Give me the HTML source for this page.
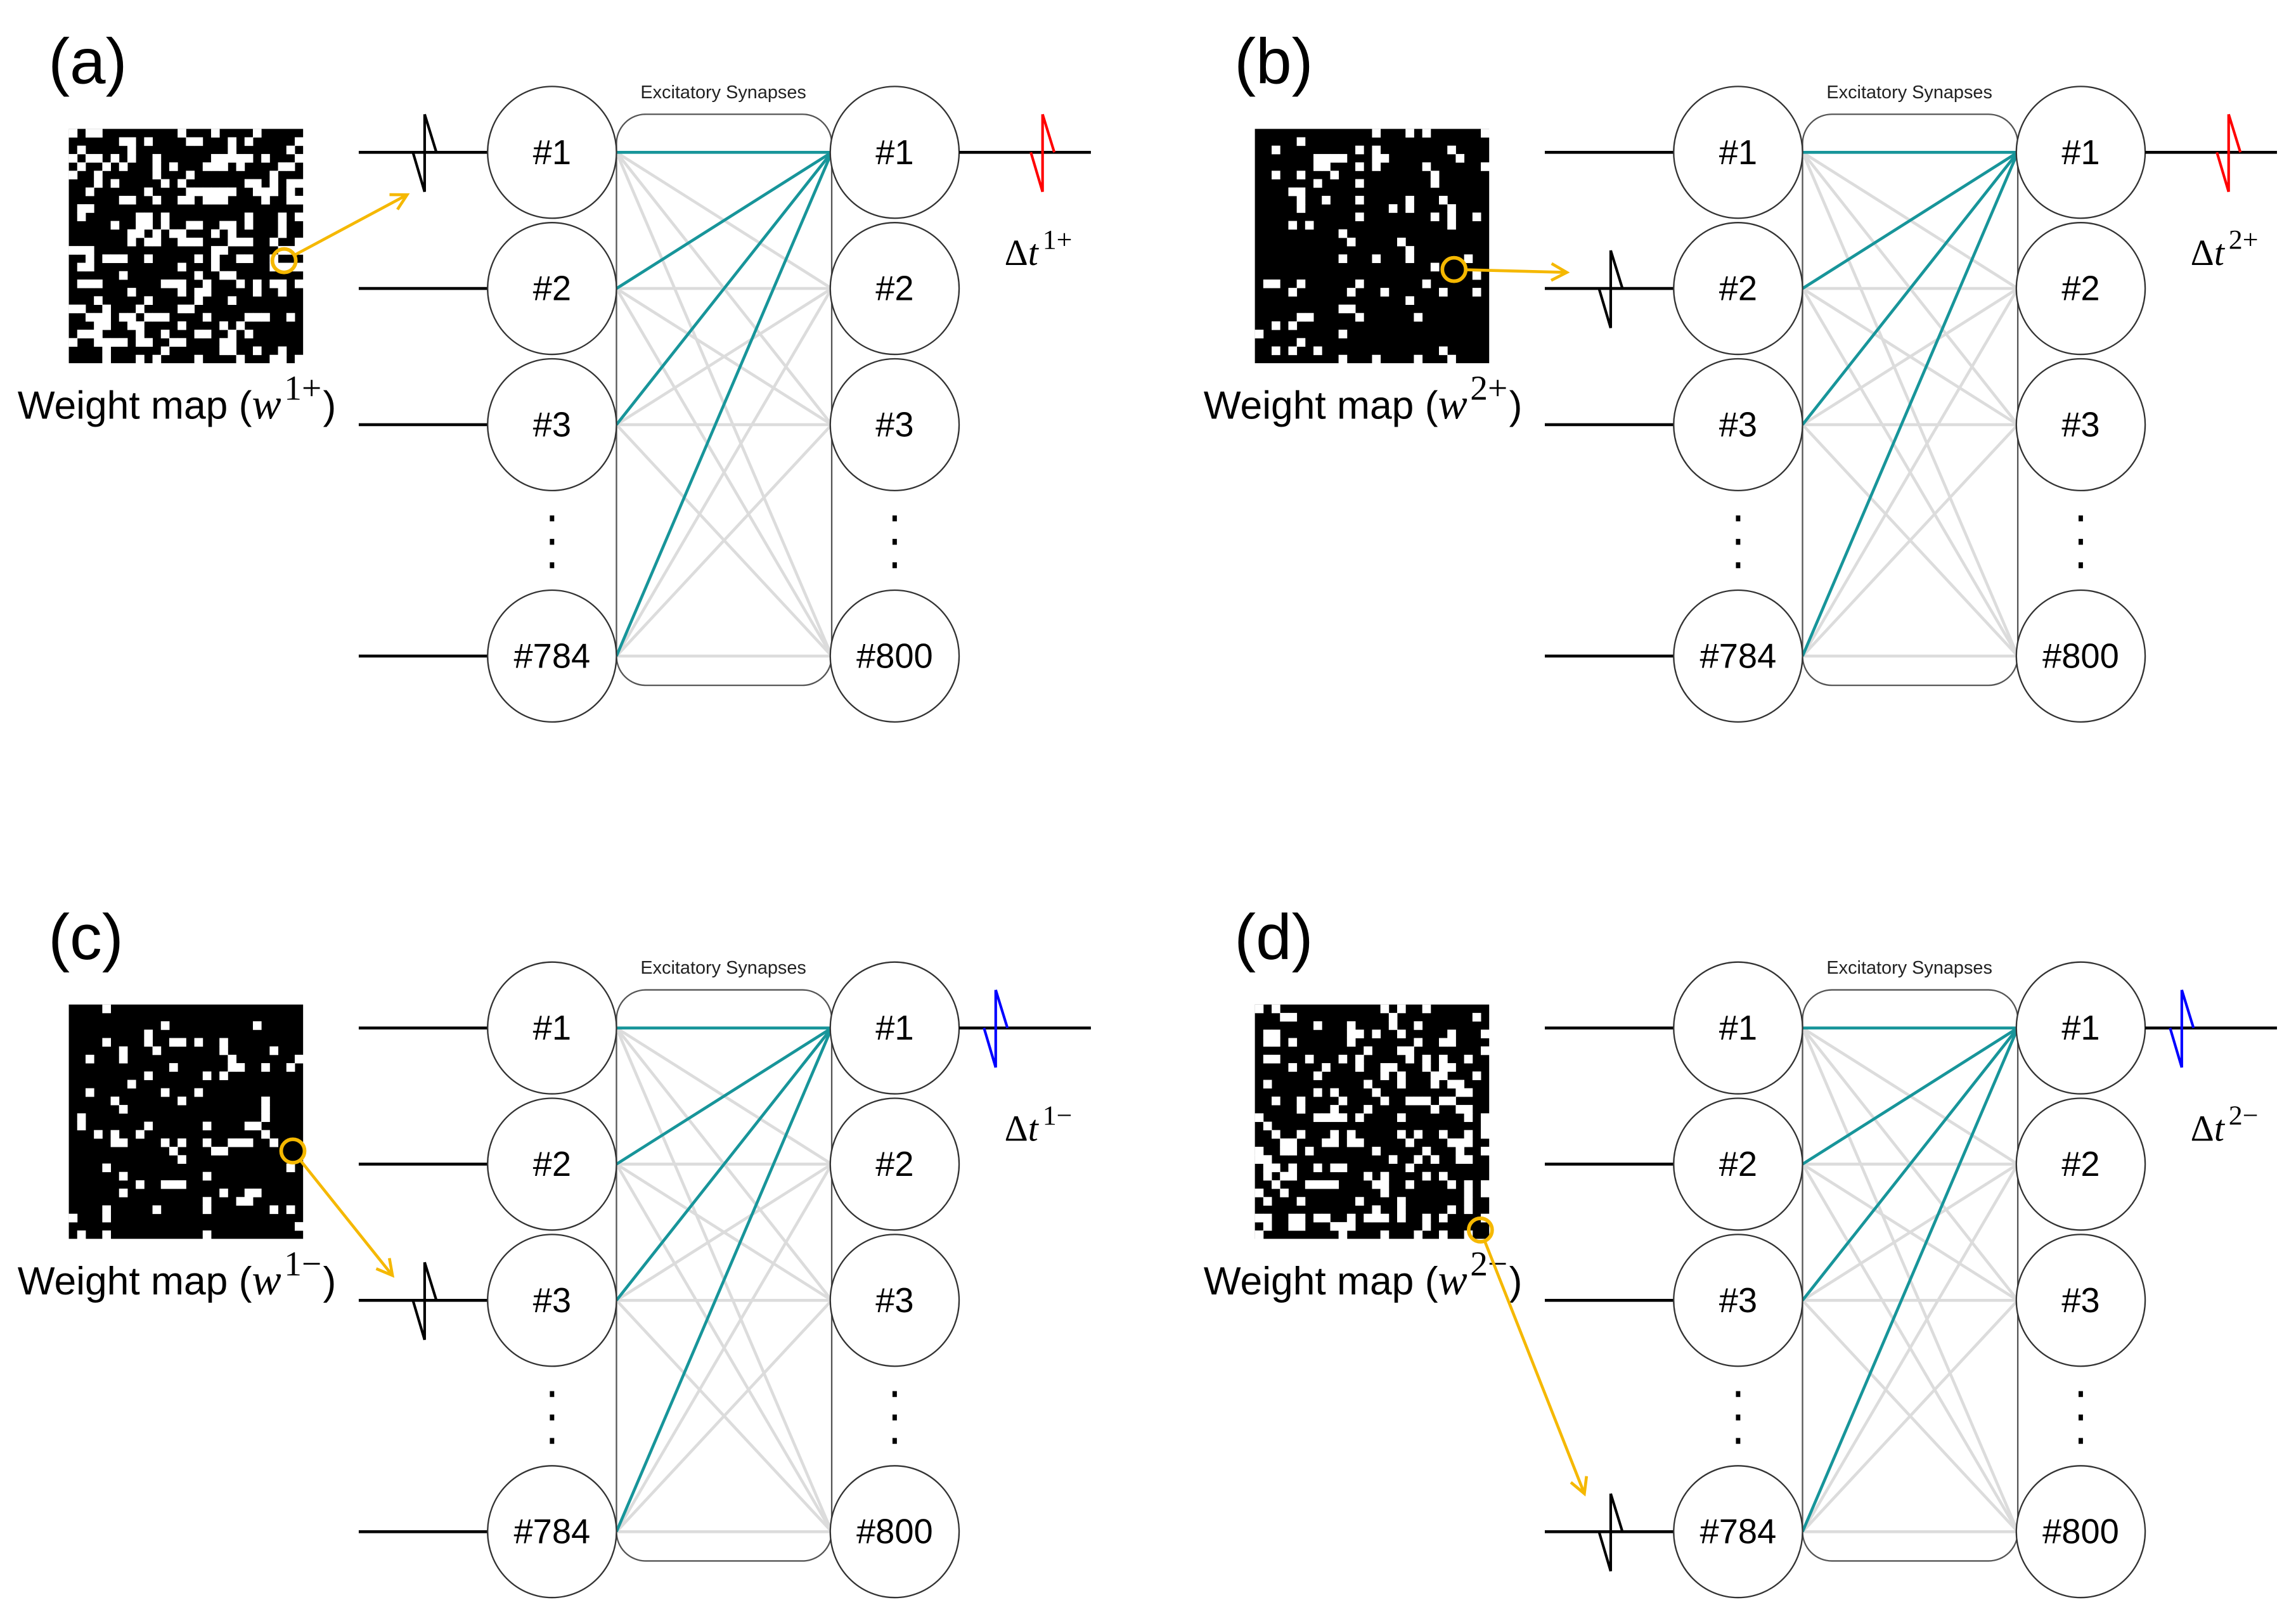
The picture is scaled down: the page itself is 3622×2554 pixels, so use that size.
<!DOCTYPE html>
<html><head><meta charset="utf-8"><style>
html,body{margin:0;padding:0;background:#fff}
svg{display:block}
text{font-family:"Liberation Sans",sans-serif}
.sr{font-family:"Liberation Serif",serif}
</style></head><body>
<svg id="s" width="3622" height="2554" viewBox="0 0 1568 1105.6" xmlns="http://www.w3.org/2000/svg"></svg>
<script>
var s=document.getElementById('s'),h='';
var seed=7;function rnd(){seed=(seed*16807)%2147483647;return seed/2147483647;}
var panels=[
 {dx:0,dy:0,lab:'(a)',sup:'1+',col:'red',dens:0.3,spikeIn:0,circ:[194,178],arr:[278,133],spikeX:290},
 {dx:810,dy:0,lab:'(b)',sup:'2+',col:'red',dens:0.1,spikeIn:1,circ:[993-810,184],arr:[1070-810,186],spikeX:290},
 {dx:0,dy:598,lab:'(c)',sup:'1\u2212',col:'blue',dens:0.12,spikeIn:2,circ:[200,786-598],arr:[268,871-598],spikeX:290},
 {dx:810,dy:598,lab:'(d)',sup:'2\u2212',col:'blue',dens:0.25,spikeIn:3,circ:[1011-810,840-598],arr:[1082-810,1020-598],spikeX:290}
];
var ys=[104,197,290,448],nl=['#1','#2','#3','#784'],nr=['#1','#2','#3','#800'];
function spike(x,y,c){return '<path d="M'+x+','+(y-26)+' L'+x+','+(y+27)+' M'+x+','+(y-26)+' L'+(x+8)+','+y+' M'+(x-8)+','+y+' L'+x+','+(y+27)+'" stroke="'+c+'" stroke-width="1.8" fill="none"/>';}
panels.forEach(function(p){
 h+='<g transform="translate('+p.dx+','+p.dy+')">';
 h+='<text x="33" y="57" font-size="44">'+p.lab+'</text>';
 h+='<rect x="47" y="88" width="160" height="160" fill="#000"/>';
 var c=160/28;
 for(var i=0;i<28;i++)for(var j=0;j<28;j++){if(rnd()<p.dens)h+='<rect x="'+(47+c*j).toFixed(2)+'" y="'+(88+c*i).toFixed(2)+'" width="'+(c+0.2).toFixed(2)+'" height="'+(c+0.2).toFixed(2)+'" fill="#fff"/>';}
 h+='<text x="12" y="286" font-size="27">Weight map (<tspan class="sr" font-style="italic" font-size="30">w</tspan><tspan class="sr" font-size="24" dy="-13" dx="2">'+p.sup+'</tspan><tspan dy="13" dx="1">)</tspan></text>';
 ys.forEach(function(y,k){h+='<line x1="245" y1="'+y+'" x2="333" y2="'+y+'" stroke="#000" stroke-width="2"/>';});
 h+=spike(p.spikeX,ys[p.spikeIn],'#000');
 h+='<text x="494" y="67" font-size="12.5" text-anchor="middle" fill="#222">Excitatory Synapses</text>';
 h+='<rect x="421" y="78" width="147" height="390" rx="20" fill="none" stroke="#555" stroke-width="1"/>';
 ys.forEach(function(a){ys.forEach(function(b){h+='<line x1="421" y1="'+a+'" x2="568" y2="'+b+'" stroke="#dcdcdc" stroke-width="2"/>';});});
 ys.forEach(function(a){h+='<line x1="421" y1="'+a+'" x2="568" y2="104" stroke="#17959a" stroke-width="2"/>';});
 ys.forEach(function(y,k){
  h+='<ellipse cx="377" cy="'+y+'" rx="44" ry="45" fill="#fff" stroke="#333" stroke-width="1"/>';
  h+='<text x="377" y="'+(y+8)+'" font-size="23.5" text-anchor="middle">'+nl[k]+'</text>';
  h+='<ellipse cx="611" cy="'+y+'" rx="44" ry="45" fill="#fff" stroke="#333" stroke-width="1"/>';
  h+='<text x="611" y="'+(y+8)+'" font-size="23.5" text-anchor="middle">'+nr[k]+'</text>';
 });
 [352,368,384].forEach(function(y){h+='<rect x="375.5" y="'+y+'" width="3" height="4" fill="#000"/><rect x="609.5" y="'+y+'" width="3" height="4" fill="#000"/>';});
 h+='<line x1="655" y1="104" x2="745" y2="104" stroke="#000" stroke-width="2"/>';
 var sx=p.col=='red'?712:680;
 h+=spike(sx,104,p.col);
 h+='<text x="686" y="181" font-size="25" class="sr">\u0394<tspan font-style="italic">t</tspan><tspan font-size="19" dy="-11" dx="3">'+p.sup+'</tspan></text>';
 var cx=p.circ[0],cy=p.circ[1],ax=p.arr[0],ay=p.arr[1];
 var dx=ax-cx,dy=ay-cy,L=Math.sqrt(dx*dx+dy*dy),ux=dx/L,uy=dy/L;
 h+='<circle cx="'+cx+'" cy="'+cy+'" r="8" fill="none" stroke="#f5b800" stroke-width="2.5"/>';
 h+='<line x1="'+(cx+ux*8)+'" y1="'+(cy+uy*8)+'" x2="'+ax+'" y2="'+ay+'" stroke="#f5b800" stroke-width="2"/>';
 var hl=12,an=0.5;
 function rot(a){return [ax-hl*(ux*Math.cos(a)-uy*Math.sin(a)),ay-hl*(ux*Math.sin(a)+uy*Math.cos(a))];}
 var p1=rot(an),p2=rot(-an);
 h+='<polyline points="'+p1.join(',')+' '+ax+','+ay+' '+p2.join(',')+'" fill="none" stroke="#f5b800" stroke-width="2"/>';
 h+='</g>';
});
s.innerHTML=h;
</script>
</body></html>
